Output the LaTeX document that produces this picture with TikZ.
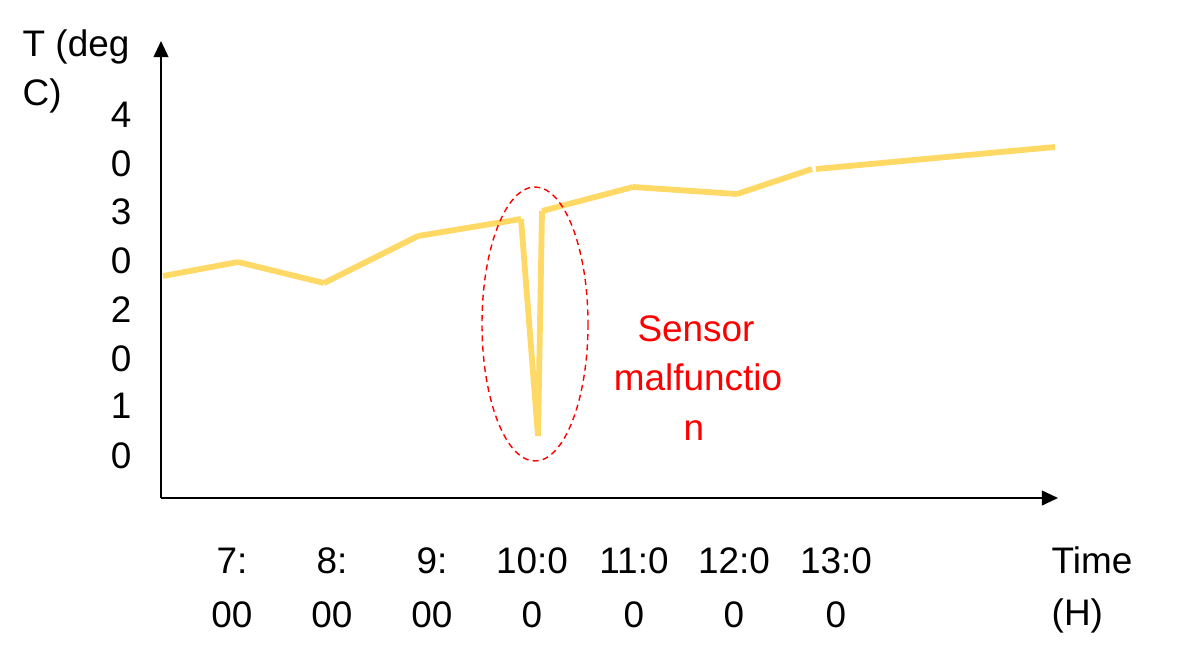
\documentclass[tikz,border=0pt]{standalone}
\usepackage{fontspec}
\setmainfont{Liberation Sans}
\usetikzlibrary{arrows.meta}
\definecolor{dataline}{HTML}{FFD966}
\definecolor{errred}{HTML}{FF0000}
\tikzset{
  axisline/.style={draw=black, line width=0.55pt, -{Triangle[length=4.6pt,width=4.2pt]}},
  dataseg/.style={draw=dataline, line width=1.65pt, line cap=butt},
  lbl/.style={inner sep=0pt, font=\fontsize{10.5}{12}\selectfont, text=black},
  redlbl/.style={lbl, text=errred},
  faultmark/.style={draw=errred, line width=0.4pt, dash pattern=on 1.7pt off 1.2pt}
}
\begin{document}
\begin{tikzpicture}[x=0.01cm,y=-0.01cm]
\useasboundingbox (0,0) rectangle (1200,654);
% axes
\coordinate (origin) at (161,498);
\coordinate (ytip) at (161,41);
\coordinate (xtip) at (1058,498);
\draw[axisline] (origin) -- (ytip);
\draw[axisline] (origin) -- (xtip);
% data points
\coordinate (p1) at (163,276);
\coordinate (p2) at (238,262);
\coordinate (p3) at (324,283);
\coordinate (p4) at (418,236);
\coordinate (p5) at (521,219);
\coordinate (p6) at (538,436);
\coordinate (p7) at (542,211);
\coordinate (p8) at (633,187);
\coordinate (p9) at (737,194);
\coordinate (p10) at (812,169);
\coordinate (p11) at (816,169);
\coordinate (p12) at (1055,147);
\draw[dataseg] (p1) -- (p2);
\draw[dataseg] (p2) -- (p3);
\draw[dataseg] (p3) -- (p4);
\draw[dataseg] (p4) -- (p5);
\draw[dataseg] (p5) -- (p6);
\draw[dataseg] (p6) -- (p7);
\draw[dataseg] (p7) -- (p8);
\draw[dataseg] (p8) -- (p9);
\draw[dataseg] (p9) -- (p10);
\draw[dataseg] (p11) -- (p12);
% fault ellipse
\draw[faultmark] (535,324) ellipse [x radius=53, y radius=137];
% red label
\node[redlbl, anchor=base] (s1) at (696,341) {Sensor};
\node[redlbl, anchor=base] (s2) at (698,390) {malfunctio};
\node[redlbl, anchor=base] (s3) at (694,440) {n};
% y axis title
\node[lbl, anchor=base west] (yt1) at (22,56) {T (deg};
\node[lbl, anchor=base west] (yt2) at (22,105) {C)};
% y tick labels
\node[lbl, anchor=base east] (y1) at (132,127) {4};
\node[lbl, anchor=base east] (y2) at (132,176) {0};
\node[lbl, anchor=base east] (y3) at (132,224) {3};
\node[lbl, anchor=base east] (y4) at (132,273) {0};
\node[lbl, anchor=base east] (y5) at (132,322) {2};
\node[lbl, anchor=base east] (y6) at (132,371) {0};
\node[lbl, anchor=base east] (y7) at (132,418) {1};
\node[lbl, anchor=base east] (y8) at (132,468) {0};
% x tick labels
\node[lbl, anchor=base] (x1a) at (232,573) {7:};
\node[lbl, anchor=base] (x1b) at (232,627) {00};
\node[lbl, anchor=base] (x2a) at (332,573) {8:};
\node[lbl, anchor=base] (x2b) at (332,627) {00};
\node[lbl, anchor=base] (x3a) at (432,573) {9:};
\node[lbl, anchor=base] (x3b) at (432,627) {00};
\node[lbl, anchor=base] (x4a) at (532,573) {10:0};
\node[lbl, anchor=base] (x4b) at (532,627) {0};
\node[lbl, anchor=base] (x5a) at (634,573) {11:0};
\node[lbl, anchor=base] (x5b) at (634,627) {0};
\node[lbl, anchor=base] (x6a) at (734,573) {12:0};
\node[lbl, anchor=base] (x6b) at (734,627) {0};
\node[lbl, anchor=base] (x7a) at (836,573) {13:0};
\node[lbl, anchor=base] (x7b) at (836,627) {0};
% x axis title
\node[lbl, anchor=base west] (xt1) at (1051,573) {Time};
\node[lbl, anchor=base west] (xt2) at (1051,625) {(H)};
\end{tikzpicture}
\end{document}
